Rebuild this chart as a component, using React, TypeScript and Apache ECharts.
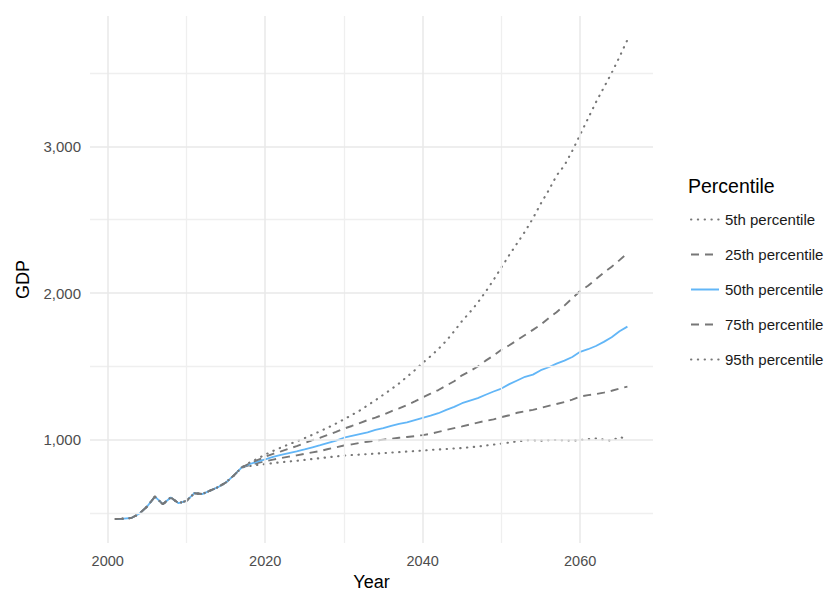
import React, { useEffect, useRef } from "react";
import * as echarts from "echarts";

// Historical GDP (2001-2017), shared by all percentiles
const histStartYear = 2001;
const histValues = [461, 464, 468, 497, 546, 614, 562, 608, 569, 585, 637, 631, 655, 678, 710, 757, 812];

// Projections 2018-2066
const projStartYear = 2018;
const p5 = [822, 830, 835, 842, 848, 853, 858, 864, 870, 876, 882, 888, 893, 897, 900, 903, 907, 910, 914, 917, 921, 924, 927, 932, 935, 938, 942, 945, 950, 955, 962, 968, 975, 982, 990, 997, 998, 995, 998, 1000, 997, 995, 1000, 1005, 1010, 1002, 995, 1020, 1005];
const p25 = [828, 842, 855, 866, 876, 886, 895, 905, 915, 925, 938, 950, 962, 970, 980, 988, 996, 1002, 1008, 1015, 1020, 1026, 1033, 1042, 1055, 1068, 1080, 1092, 1105, 1118, 1130, 1140, 1155, 1168, 1185, 1195, 1205, 1218, 1232, 1245, 1258, 1275, 1295, 1305, 1312, 1322, 1335, 1350, 1363];
const p50 = [835, 852, 868, 884, 898, 910, 922, 935, 950, 964, 980, 995, 1015, 1028, 1040, 1052, 1068, 1080, 1096, 1110, 1120, 1135, 1150, 1165, 1182, 1205, 1225, 1250, 1268, 1285, 1308, 1330, 1350, 1380, 1405, 1430, 1445, 1475, 1495, 1520, 1540, 1565, 1600, 1618, 1640, 1668, 1700, 1740, 1772];
const p75 = [840, 862, 885, 905, 922, 940, 958, 978, 998, 1015, 1035, 1055, 1077, 1095, 1115, 1135, 1152, 1172, 1195, 1215, 1238, 1262, 1290, 1315, 1340, 1370, 1400, 1440, 1468, 1500, 1540, 1575, 1615, 1645, 1680, 1715, 1750, 1785, 1830, 1870, 1915, 1965, 2015, 2050, 2095, 2140, 2180, 2225, 2272];
const p95 = [845, 872, 900, 925, 948, 970, 990, 1012, 1035, 1060, 1085, 1112, 1140, 1170, 1200, 1235, 1270, 1308, 1345, 1385, 1430, 1475, 1525, 1570, 1620, 1675, 1740, 1810, 1870, 1935, 2010, 2090, 2175, 2260, 2340, 2420, 2510, 2610, 2700, 2800, 2870, 2970, 3080, 3190, 3300, 3400, 3500, 3610, 3725];

const seriesNames = ["5th percentile", "25th percentile", "50th percentile", "75th percentile", "95th percentile"];
const xTickLabels = [2000, 2020, 2040, 2060];
const xGridMajor = [2000, 2020, 2040, 2060];
const xGridMinor = [2010, 2030, 2050];
const yTickLabels = [1000, 2000, 3000];
const yGridMajor = [1000, 2000, 3000];
const yGridMinor = [500, 1500, 2500, 3500];

const FONT = "'Liberation Sans', Arial, sans-serif";
const GREY = "#777777";
const BLUE = "#62b6f7";

function buildData(proj: number[]) {
  const out: [number, number][] = [];
  histValues.forEach((v, i) => out.push([histStartYear + i, v]));
  proj.forEach((v, i) => out.push([projStartYear + i, v]));
  return out;
}

export default function App() {
  const ref = useRef<HTMLDivElement>(null);
  useEffect(() => {
    if (!ref.current) return;
    const chart = echarts.init(ref.current, undefined, { renderer: "svg" });
    const DOT = [0.4, 6.4];
    const DASH = [8, 6];
    const styles = [
      { color: GREY, type: DOT as any, cap: "round", width: 2.1 },
      { color: GREY, type: DASH as any, cap: "butt", width: 1.9 },
      { color: BLUE, type: "solid", cap: "butt", width: 1.8 },
      { color: GREY, type: DASH as any, cap: "butt", width: 1.9 },
      { color: GREY, type: DOT as any, cap: "round", width: 2.1 },
    ];
    const datasets = [p5, p25, p50, p75, p95];
    const gridLine = (axis: "xAxis" | "yAxis", v: number, minor: boolean) => ({
      [axis]: v,
      lineStyle: { color: minor ? "#efefef" : "#e9e9e9", width: minor ? 1.3 : 1.5, type: "solid" },
    });
    const option: any = {
      animation: false,
      backgroundColor: "#ffffff",
      title: {
        text: "Percentile",
        left: 688,
        top: 176,
        padding: 0,
        textStyle: { fontFamily: FONT, fontSize: 19.5, fontWeight: "normal", color: "#000" },
      },
      legend: {
        orient: "vertical",
        left: 690,
        top: 212,
        padding: 0,
        itemWidth: 28,
        itemHeight: 14,
        itemGap: 20,
        data: seriesNames,
        itemStyle: { opacity: 0 },
        textStyle: { fontFamily: FONT, fontSize: 15, color: "#1a1a1a", padding: [0, 0, 0, 1] },
      },
      grid: { left: 90, right: 178, top: 16, bottom: 54 },
      xAxis: {
        type: "value",
        min: 1997.75,
        max: 2069.25,
        name: "Year",
        nameLocation: "middle",
        nameGap: 30,
        nameTextStyle: { fontFamily: FONT, fontSize: 18, color: "#000" },
        axisLine: { show: false },
        axisTick: { show: false },
        splitLine: { show: false },
        axisLabel: {
          customValues: xTickLabels,
          margin: 10,
          fontFamily: FONT,
          fontSize: 14.5,
          color: "#4d4d4d",
          formatter: (v: number) => String(v),
        },
      },
      yAxis: {
        type: "value",
        min: 297.8,
        max: 3888,
        name: "GDP",
        nameLocation: "middle",
        nameGap: 58,
        nameTextStyle: { fontFamily: FONT, fontSize: 18, color: "#000" },
        axisLine: { show: false },
        axisTick: { show: false },
        splitLine: { show: false },
        axisLabel: {
          customValues: yTickLabels,
          margin: 9,
          fontFamily: FONT,
          fontSize: 15,
          color: "#4d4d4d",
          formatter: (v: number) => v.toLocaleString("en-US"),
        },
      },
      series: [
        {
          name: "__grid",
          type: "line",
          data: [],
          silent: true,
          z: 0,
          markLine: {
            silent: true,
            symbol: ["none", "none"],
            label: { show: false },
            emphasis: { disabled: true },
            animation: false,
            data: [
              ...xGridMinor.map((v) => gridLine("xAxis", v, true)),
              ...yGridMinor.map((v) => gridLine("yAxis", v, true)),
              ...xGridMajor.map((v) => gridLine("xAxis", v, false)),
              ...yGridMajor.map((v) => gridLine("yAxis", v, false)),
            ],
          },
        },
        ...datasets.map((d, i) => ({
          name: seriesNames[i],
          type: "line",
          data: buildData(d),
          symbol: "none",
          showSymbol: false,
          z: 2,
          color: styles[i].color,
          lineStyle: { color: styles[i].color, width: styles[i].width, type: styles[i].type, cap: styles[i].cap },
          emphasis: { disabled: true },
        })),
      ],
    };
    chart.setOption(option);
    return () => chart.dispose();
  }, []);
  return <div ref={ref} style={{ position: "fixed", left: 0, top: 0, width: 831, height: 597 }} />;
}
